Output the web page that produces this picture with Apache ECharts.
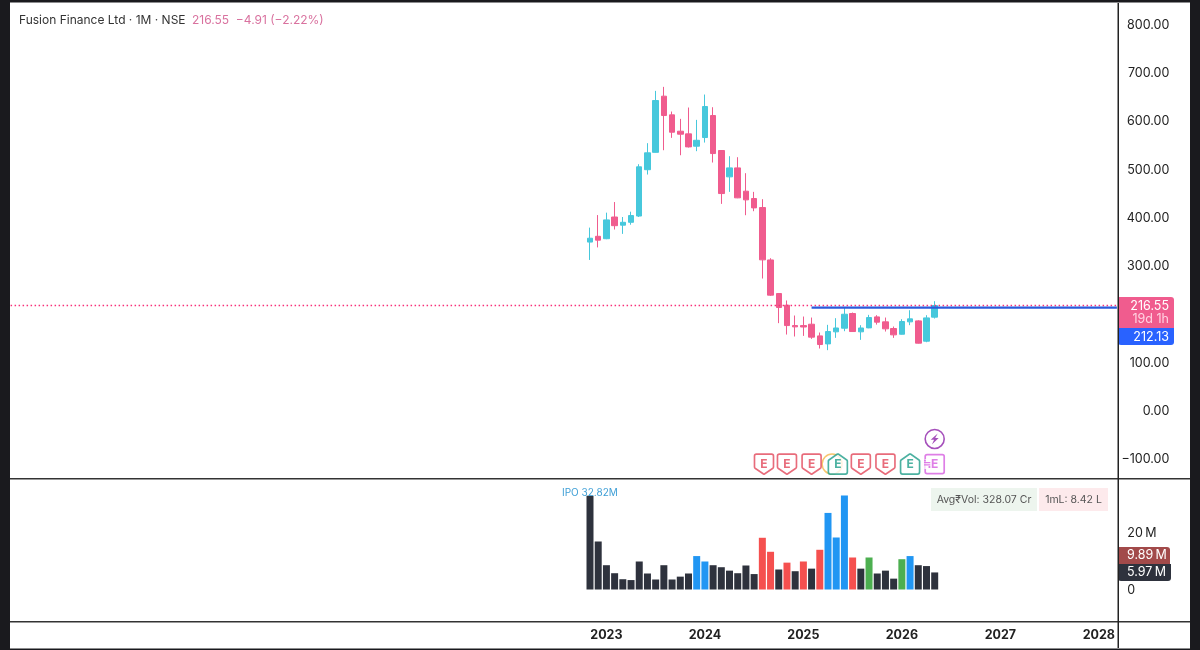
<!DOCTYPE html>
<html><head><meta charset="utf-8">
<style>html,body{margin:0;padding:0;background:#fff}#c{width:1200px;height:650px}</style>
<script src="https://cdn.jsdelivr.net/npm/echarts@6/dist/echarts.min.js"></script>
</head><body><div id="c"></div>
<script>
// month position of each candle counted from the first traded month (Nov 2022)
const leadBlankMonths = 71, totalMonths = 136;
const opens  = [348,360,355,400,383,389,402,498,534,650.4,611.7,577.8,572.3,546.7,564.7,610.3,537.8,483.2,501.8,453.5,438.3,419.6,311,241.4,217.2,175,175,177.8,153.6,137,162,169.5,200,162,170.2,193,182.7,168.9,157,182.7,184.7,142.6,192.4];
const closes = [356,352,394,382,389,403,504,533,641.4,610.3,575.7,571.6,545.3,559,629,531.5,448.6,501.8,439.7,435.5,418.9,311.2,238,212.4,175,172.3,172,151,135.7,162.6,170,198.5,162.6,170,191.6,182,168.2,155.7,183.4,188.9,138.5,190.9,216.55];
const lows   = [311,337,354,374,365,384,400,488,533.6,538.4,564,528,544,536.4,554.3,512.9,427.2,452.1,439,403.7,412,272.5,236.5,180,156.4,152.3,153.6,147.4,127.4,124,149.5,163.3,162,145.4,169.5,177,162.6,149.5,156.4,175.8,137.8,140.5,189.6];
const highs  = [378,404,409,431,400,411,509.4,553,661.4,669.7,618.6,603.4,626.9,601.3,653.8,627.5,538,526,523.9,490.8,452.1,436.9,314.6,241.5,227,195.8,193.7,191.6,160.6,176.5,190.3,213,202,175.8,197.2,196.5,191.6,173,188.2,206.8,186,196.5,225.5];
const volumes = [32.82,16.8,8.5,5.7,3.6,3.3,9.8,5.6,3.5,8.5,3.5,4.5,5.6,11.7,9.8,8.5,7.8,6.6,5.7,8.4,5.4,18.1,13.2,7.0,9.4,6.4,9.8,7.3,13.9,26.8,18.2,32.9,11.2,7.3,11.2,5.6,6.6,3.8,10.6,11.7,8.5,8.2,5.97];
const volumeKinds = "dddddddddddddbbddddddrrdrdrdrbbbrdgdddgbddd";
const priceTicks = [-100,0,100,200,300,400,500,600,700,800];
const levelPrice = 212.13, lastPrice = 216.55;
const levelStartBar = 27, levelEndBar = 64.2, lastPriceStartBar = -70.6;
const earningsBars = [21.2,24,27,33,36];
const earningsUpBars = [30.2,39];
const earningsNextBar = [42];
const splitMarkBar = [41.1];
const dividendBar = [29.5];
const eventBar = [42];
const badgeLevel = -112, eventLevel = -60;

const PINK='#f05c8e', TEAL='#47c8dc', BLUE='#2962ff';
const months = [];
for (let i=0;i<totalMonths;i++){const m=11+i;months.push((2016+Math.floor(m/12))+'-'+String(m%12+1).padStart(2,'0'));}
const pad = Array(leadBlankMonths).fill('-');
const candle = pad.concat(opens.map((o,i)=>[o,closes[i],lows[i],highs[i]]));
const kindColor = {d:'#2e323d',b:'#2196f3',r:'#f5504f',g:'#4caf50'};
const vols = pad.concat(volumes.map((v,i)=>({value:v,itemStyle:{color:kindColor[volumeKinds[i]]}})));
const FONT='Inter, "Noto Sans", sans-serif';
const bw=8.207, left=590-(leadBlankMonths+0.5)*bw, gw=totalMonths*bw;
const SHIELD='path://M2 0H18Q20 0 20 2V13Q20 14 19 14.6L10.5 20Q10 20.3 9.5 20L1 14.6Q0 14 0 13V2Q0 0 2 0Z';
const HOUSE='path://M9.5 0.2Q10 0 10.5 0.2L19.4 6Q20 6.4 20 7V18Q20 20 18 20H2Q0 20 0 18V7Q0 6.4 0.6 6Z';
const BOX='path://M2 0H18Q20 0 20 2V18Q20 20 18 20H2Q0 20 0 18V2Q0 0 2 0Z';
const BOLT='path://M7 0L0 6.2H3.4L1.2 11L8 4.6H4.5Z';
function badges(name,bars,symbol,color,size){return {name,type:'scatter',xAxisIndex:2,yAxisIndex:0,clip:false,silent:true,z:5,
 symbol,symbolSize:size,data:bars.map(b=>[b,badgeLevel]),itemStyle:{color:'#fff',borderColor:color,borderWidth:1.7},
 label:{show:true,position:'inside',formatter:'E',color:color,fontFamily:FONT,fontSize:12,fontWeight:700}};}
const rectTag=(x,y,w,h,fill,r)=>({type:'rect',z:20,shape:{x,y,width:w,height:h,r:r||0},style:{fill}});
const txt=(x,y,t,fill,size,align,extra)=>({type:'text',z:21,style:Object.assign({x,y,text:t,fill,font:(size||12)+'px '+FONT,textAlign:align||'left',textVerticalAlign:'middle'},extra||{})});
const option={
 animation:false,backgroundColor:'#fff',
 grid:[{left,width:gw,top:24,height:434.25},{left,width:gw,top:475.2,height:114.3}],
 xAxis:[
  {type:'category',gridIndex:0,data:months,axisLine:{show:false},axisTick:{show:false},axisLabel:{show:false},splitLine:{show:false}},
  {type:'category',gridIndex:1,data:months,axisLine:{show:false},axisTick:{show:false},splitLine:{show:false},position:'bottom',
   axisLabel:{show:true,interval:0,hideOverlap:false,margin:39,color:'#222',fontFamily:FONT,fontSize:12.5,fontWeight:700,
    formatter:v=>{const [y,m]=v.split('-');return m==='01'&&+y>=2023?y:'';}}},
  {type:'value',gridIndex:0,show:false,min:-leadBlankMonths-0.5,max:totalMonths-leadBlankMonths-0.5,splitLine:{show:false}},
 ],
 yAxis:[
  {type:'value',gridIndex:0,position:'right',min:-100,max:800,interval:100,axisLine:{show:false},axisTick:{show:false},splitLine:{show:false},
   axisLabel:{show:true,align:'right',verticalAlign:'top',lineHeight:14,padding:[-6,0,0,0],margin:50,color:'#222',fontFamily:FONT,fontSize:12.5,
    formatter:v=>priceTicks.includes(v)?(v<0?'\u2212':'')+Math.abs(v).toFixed(2):''}},
  {type:'value',gridIndex:1,position:'right',min:0,max:40,interval:20,axisLine:{show:false},axisTick:{show:false},splitLine:{show:false},
   axisLabel:{show:true,align:'left',verticalAlign:'top',lineHeight:14,padding:[-6,0,0,0],margin:8,color:'#222',fontFamily:FONT,fontSize:12.5,formatter:v=>v===0?'0':v===20?'20\u2009M':''}},
 ],
 series:[
  {name:'Price',type:'candlestick',xAxisIndex:0,yAxisIndex:0,data:candle,barWidth:6,
   itemStyle:{color:TEAL,color0:PINK,borderColor:TEAL,borderColor0:PINK,borderWidth:1}},
  {name:'LastPrice',type:'line',xAxisIndex:2,yAxisIndex:0,symbol:'none',z:3,lineStyle:{color:'#f8307a',width:1.4,type:[1.5,2.5]},data:[[lastPriceStartBar,lastPrice],[levelEndBar,lastPrice]]},
  {name:'Level',type:'line',xAxisIndex:2,yAxisIndex:0,symbol:'none',z:4,lineStyle:{color:'#2b5bdc',width:2.2},data:[[levelStartBar,levelPrice],[levelEndBar,levelPrice]]},
  {name:'Volume',type:'bar',xAxisIndex:1,yAxisIndex:1,data:vols,barWidth:7},
  {name:'Dividend',type:'scatter',xAxisIndex:2,yAxisIndex:0,clip:false,silent:true,z:4,symbol:'circle',symbolSize:20,data:dividendBar.map(b=>[b,badgeLevel]),itemStyle:{color:'#fff',borderColor:'#f5b84a',borderWidth:1.5}},
  badges('Earnings',earningsBars,SHIELD,'#e2475a',[19,20]),
  badges('EarningsUp',earningsUpBars,HOUSE,'#1f9e89',[19,20]),
  badges('EarningsNext',earningsNextBar,BOX,'#d65fe0',[19,19]),
  {name:'SplitMark',type:'scatter',xAxisIndex:2,yAxisIndex:0,clip:false,silent:true,z:6,symbol:'rect',symbolSize:[6,10],data:splitMarkBar.map(b=>[b,badgeLevel]),itemStyle:{color:'#fff'},
   label:{show:true,position:'inside',formatter:'\u2252',color:'#d65fe0',fontFamily:'"DejaVu Sans"',fontSize:10,fontWeight:700}},
  {name:'Event',type:'scatter',xAxisIndex:2,yAxisIndex:0,clip:false,silent:true,z:5,symbol:'circle',symbolSize:19,data:eventBar.map(b=>[b,eventLevel]),itemStyle:{color:'#fff',borderColor:'#8e24aa',borderWidth:1.6}},
  {name:'EventBolt',type:'scatter',xAxisIndex:2,yAxisIndex:0,clip:false,silent:true,z:6,symbol:BOLT,symbolSize:[8,11],data:eventBar.map(b=>[b,eventLevel]),itemStyle:{color:'#8e24aa'}},
 ],
 graphic:[
  txt(19,20.5,'Fusion Finance Ltd \u00b7 1M \u00b7 NSE','#333',12),
  txt(192,20.5,'216.55  \u22124.91 (\u22122.22%)','#d9729f',12),
  txt(562,493,'IPO 32.82M','#3f9fd6',10),
  rectTag(931,488,106,23,'#edf5ee'),txt(984,500,'Avg\u20b9Vol: 328.07 Cr','#555',10.5,'center'),
  rectTag(1039,488,69,23,'#fdeaec'),txt(1073.5,500,'1mL: 8.42 L','#555',10.5,'center'),
  rectTag(1118,297,56,31,PINK,[0,3,0,0]),txt(1169,306,'216.55','#fff',12.5,'right'),txt(1169,319,'19d 1h','#ffd3e2',12.5,'right'),
  rectTag(1118,328,56,17,BLUE,[0,0,3,3]),txt(1169,337,'212.13','#fff',12.5,'right'),
  rectTag(1118,547,52,17,'#a24a4a',[0,3,0,0]),txt(1127,555.5,'9.89\u2009M','#fff',12.5),
  rectTag(1118,564,53,17,'#2e323d',[0,0,3,3]),txt(1127,572.5,'5.97\u2009M','#fff',12.5),
  rectTag(10,478,1180,1.5,'#333'),rectTag(10,621,1180,1.5,'#333'),rectTag(1117.5,3,1.5,645,'#222'),
  rectTag(0,0,1200,2.5,'#1a1a1e'),rectTag(0,0,10,650,'#1a1a1e'),rectTag(1190,0,10,650,'#1a1a1e'),rectTag(0,648.5,1200,1.5,'#1a1a1e'),
 ]
};
echarts.init(document.getElementById('c'),null,{renderer:'canvas'}).setOption(option);
</script></body></html>
